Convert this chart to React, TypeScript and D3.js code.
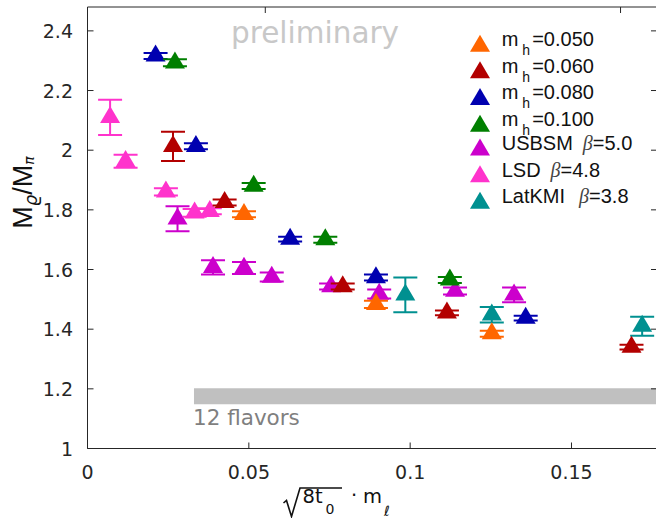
import React from "react";
import * as d3 from "d3";

// ---------- data ----------
const xTicks = [0, 0.05, 0.1, 0.15];
const yTicks = [1, 1.2, 1.4, 1.6, 1.8, 2, 2.2, 2.4];
const topTicks = [0.0551, 0.1652];

const mh050X = [0.0485, 0.0894, 0.1253];
const mh050Y = [1.785, 1.483, 1.385];
const mh050E = [0.01, 0.012, 0.01];

const mh060X = [0.0265, 0.0425, 0.0791, 0.1114, 0.1686];
const mh060Y = [2.013, 1.825, 1.543, 1.455, 1.34];
const mh060E = [0.049, 0.01, 0.01, 0.008, 0.008];

const mh080X = [0.0211, 0.0336, 0.0628, 0.0894, 0.1358];
const mh080Y = [2.316, 2.013, 1.702, 1.573, 1.437];
const mh080E = [0.01, 0.01, 0.008, 0.01, 0.008];

const mh100X = [0.0271, 0.0515, 0.0737, 0.1123];
const mh100Y = [2.293, 1.88, 1.7, 1.565];
const mh100E = [0.012, 0.01, 0.01, 0.01];

const usbsmX = [0.0279, 0.0389, 0.0485, 0.0571, 0.0755, 0.0904, 0.1139, 0.1322];
const usbsmY = [1.77, 1.607, 1.605, 1.575, 1.543, 1.518, 1.528, 1.515];
const usbsmE = [0.042, 0.024, 0.02, 0.015, 0.01, 0.015, 0.012, 0.025];

const lsdX = [0.007, 0.0118, 0.0243, 0.0332, 0.0379];
const lsdY = [2.11, 1.963, 1.86, 1.79, 1.795];
const lsdE = [0.059, 0.022, 0.012, 0.013, 0.01];

const latkmiX = [0.0985, 0.1253, 0.1719];
const latkmiY = [1.515, 1.448, 1.41];
const latkmiE = [0.058, 0.026, 0.032];

const bandX = [0.033, 0.2];
const bandY = 1.175;

type Series = { key: string; color: string; xs: number[]; ys: number[]; es: number[] };

const mhSeries: Series[] = [
  { key: "0.050", color: "#ff6600", xs: mh050X, ys: mh050Y, es: mh050E },
  { key: "0.060", color: "#b30000", xs: mh060X, ys: mh060Y, es: mh060E },
  { key: "0.080", color: "#0000b0", xs: mh080X, ys: mh080Y, es: mh080E },
  { key: "0.100", color: "#007f00", xs: mh100X, ys: mh100Y, es: mh100E },
];
const otherSeries: Series[] = [
  { key: "USBSM", color: "#cc00cc", xs: usbsmX, ys: usbsmY, es: usbsmE },
  { key: "LSD", color: "#ff33cc", xs: lsdX, ys: lsdY, es: lsdE },
  { key: "LatKMI", color: "#009090", xs: latkmiX, ys: latkmiY, es: latkmiE },
];
const otherLabels = [
  { name: "USBSM", beta: "5.0", gap: 10 },
  { name: "LSD", beta: "4.8", gap: 10 },
  { name: "LatKMI", beta: "3.8", gap: 14 },
];

// ---------- layout ----------
const W = 656;
const H = 518;
const L = 87.5, R = 657, T = 7, B = 448.5;
const x = d3.scaleLinear().domain([0, 0.1765]).range([L, R]);
const y = d3.scaleLinear().domain([1, 2.48]).range([B, T]);

const TW = 20, TH = 17;
const tri = (cx: number, cy: number) =>
  `M${cx},${cy - (2 * TH) / 3}L${cx + TW / 2},${cy + TH / 3}L${cx - TW / 2},${cy + TH / 3}Z`;

const fmt = (v: number) => String(+v.toFixed(2));
const SANS = "'Liberation Sans', Arial, Helvetica, sans-serif";
const DV = "'DejaVu Sans', 'Liberation Sans', sans-serif";
const axisColor = "#262626";

function SeriesMarks({ s }: { s: Series }) {
  const cap = 12;
  return (
    <g>
      {s.xs.map((xv, i) => {
        const cx = x(xv);
        const y0 = y(s.ys[i] - s.es[i]);
        const y1 = y(s.ys[i] + s.es[i]);
        return (
          <g key={"e" + i} stroke={s.color} strokeWidth={2} fill="none">
            <line x1={cx} x2={cx} y1={y0} y2={y1} />
            <line x1={cx - cap} x2={cx + cap} y1={y0} y2={y0} />
            <line x1={cx - cap} x2={cx + cap} y1={y1} y2={y1} />
          </g>
        );
      })}
      {s.xs.map((xv, i) => (
        <path key={"m" + i} d={tri(x(xv), y(s.ys[i]))} fill={s.color} />
      ))}
    </g>
  );
}

export default function App() {
  const legendBase = 46;
  const legendStep = 26.7;
  const legX = 480;
  const legTextX = 501.7;
  return (
    <svg
      width={W}
      height={H}
      viewBox={`0 0 ${W} ${H}`}
      style={{ position: "absolute", left: 0, top: 0, background: "#fff" }}
    >
      <rect x={0} y={0} width={W} height={H} fill="#fff" />
      <defs>
        <clipPath id="plotclip">
          <rect x={L} y={T} width={R - L} height={B - T} />
        </clipPath>
      </defs>

      {/* preliminary */}
      <text x={231} y={43.3} fontFamily={DV} fontSize={29.5} fill="#c8c8c8">
        preliminary
      </text>

      <g clipPath="url(#plotclip)">
        {/* 12 flavors band */}
        <line
          x1={x(bandX[0])}
          x2={x(bandX[1])}
          y1={y(bandY)}
          y2={y(bandY)}
          stroke="#c0c0c0"
          strokeWidth={16}
        />
        {otherSeries.map((s) => (
          <SeriesMarks key={s.key} s={s} />
        ))}
        {mhSeries.map((s) => (
          <SeriesMarks key={s.key} s={s} />
        ))}
      </g>
      <text x={x(bandX[0]) - 1} y={424.5} fontFamily={DV} fontSize={21.5} fill="#7f7f7f">
        12 flavors
      </text>

      {/* axes box */}
      <g stroke={axisColor} strokeWidth={1} fill="none">
        <line x1={L} x2={R} y1={B} y2={B} />
        <line x1={L} x2={R} y1={T} y2={T} />
        <line x1={L} x2={L} y1={T} y2={B} />
        <line x1={R} x2={R} y1={T} y2={B} />
        {xTicks.map((t) => (
          <line key={"xb" + t} x1={x(t)} x2={x(t)} y1={B} y2={B - 6} />
        ))}
        {topTicks.map((t) => (
          <line key={"xt" + t} x1={x(t)} x2={x(t)} y1={T} y2={T + 6} />
        ))}
        {yTicks.map((t) => (
          <line key={"yl" + t} x1={L} x2={L + 6} y1={y(t)} y2={y(t)} />
        ))}
        {yTicks.map((t) => (
          <line key={"yr" + t} x1={R} x2={R - 6} y1={y(t)} y2={y(t)} />
        ))}
      </g>
      <g fontFamily={DV} fontSize={19} fill="#262626">
        {xTicks.map((t) => (
          <text key={"xl" + t} x={x(t)} y={479.3} textAnchor="middle">
            {fmt(t)}
          </text>
        ))}
        {yTicks.map((t) => (
          <text key={"yt" + t} x={73} y={y(t) + 7} textAnchor="end">
            {fmt(t)}
          </text>
        ))}
      </g>

      {/* x label */}
      <g fill="#111" fontFamily={DV}>
        <path
          d="M283.5,503 L286.5,500.5 L291.5,516.5 L300,488 L342,488"
          stroke="#111"
          strokeWidth={1.6}
          fill="none"
        />
        <text x={302.5} y={503.3} fontSize={19.5}>
          8t
        </text>
        <text x={325.5} y={513.5} fontSize={14}>
          0
        </text>
        <text x={354.2} y={502} fontSize={19.5} textAnchor="middle">
          ·
        </text>
        <text x={363} y={503.3} fontSize={19.5}>
          m
        </text>
        <text x={384} y={515.5} fontSize={14} fontStyle="italic">
          ℓ
        </text>
      </g>

      {/* y label */}
      <text
        transform="translate(31.7,192.5) rotate(-90)"
        textAnchor="middle"
        fontFamily={SANS}
        fontSize={27}
        fill="#111"
      >
        M
        <tspan fontSize={18} fontStyle="italic" dy={5} fontFamily={DV}>
          ϱ
        </tspan>
        <tspan dy={-5}>/M</tspan>
        <tspan fontSize={14} dy={2} fontStyle="italic" fontFamily={DV}>
          π
        </tspan>
      </text>

      {/* legend */}
      <g fontFamily={SANS} fontSize={20} fill="#111">
        {mhSeries.map((s, i) => {
          const by = legendBase + i * legendStep;
          return (
            <g key={"lg" + s.key}>
              <path d={tri(legX, by)} fill={s.color} />
              <text x={legTextX} y={by}>
                m
                <tspan dx={4} dy={9} fontSize={14}>
                  h
                </tspan>
                <tspan dx={2} dy={-9}>
                  ={s.key}
                </tspan>
              </text>
            </g>
          );
        })}
        {otherSeries.map((s, j) => {
          const by = legendBase + (j + 4) * legendStep - 3;
          const lab = otherLabels[j];
          return (
            <g key={"lo" + s.key}>
              <path d={tri(legX, by)} fill={s.color} />
              <text x={legTextX} y={by}>
                {lab.name}
                <tspan
                  dx={lab.gap}
                  fontStyle="italic"
                  fontFamily="'Liberation Serif', serif"
                  fill="#444"
                >
                  β
                </tspan>
                <tspan>={lab.beta}</tspan>
              </text>
            </g>
          );
        })}
      </g>
    </svg>
  );
}
